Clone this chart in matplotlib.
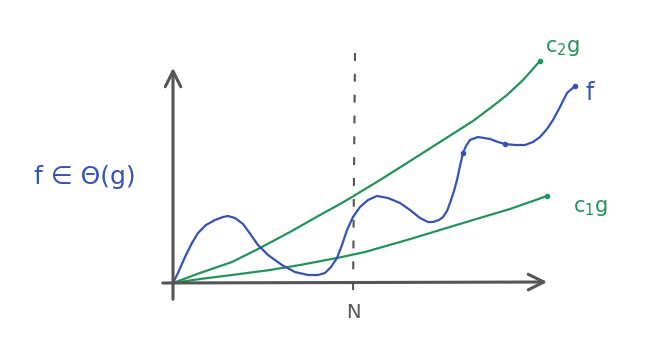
import numpy as np
import matplotlib
matplotlib.use("Agg")
from matplotlib import pyplot as plt

# curves (origin at the axes corner)
c2g_x = [0, 27, 59, 87, 117, 147, 167, 179, 207, 234, 267, 300, 320, 334, 350, 367]
c2g_y = [0, 10, 21, 35, 51, 68, 79, 86, 103, 120, 141, 162, 177, 188, 203, 222]

c1g_x = [0, 27, 59, 97, 127, 164, 192, 234, 267, 300, 337, 374]
c1g_y = [0, 4, 8, 13, 18, 25, 31, 43, 53, 63, 74, 87]

f_x = [0, 5, 12, 19, 25, 33, 42, 50, 55, 62, 70, 78, 85, 95, 109, 122, 135, 145,
       152, 158, 164, 169, 174, 180, 187, 195, 204, 215, 227, 237, 247, 255, 260,
       266, 270, 274, 277, 281, 284, 287, 290, 293, 297, 305, 317, 325, 332, 342,
       352, 360, 367, 374, 380, 387, 394, 402]
f_y = [0, 10, 26, 40, 50, 58, 63, 66, 67, 65, 59, 48, 38, 28, 18, 11, 8, 8,
       10, 16, 25, 38, 53, 66, 76, 83, 87, 85, 80, 73, 65, 61, 61,
       63, 66, 72, 80, 92, 103, 117, 130, 137, 143, 146, 144, 141, 139, 138,
       138, 141, 146, 154, 163, 176, 190, 197]

N_x = 180

GREEN = "#23935a"
BLUE = "#3553b5"
GREY = "#555555"

fig = plt.figure(figsize=(6.66, 3.58), dpi=100)
ax = fig.add_axes([0, 0, 1, 1])
ax.set_xlim(-173, 493)
ax.set_ylim(-75, 283)
ax.axis("off")

# axes with arrows
ax.annotate("", xy=(377, 1), xytext=(-13, 0),
            arrowprops=dict(arrowstyle="->", lw=2.2, color=GREY, mutation_scale=28))
ax.annotate("", xy=(0, 218), xytext=(0, -19),
            arrowprops=dict(arrowstyle="->", lw=2.2, color=GREY, mutation_scale=28))

# N dashed line
ax.plot([N_x + 2, N_x], [230, -14], color=GREY, lw=1.5, dashes=(3.8, 6.2))
ax.text(N_x, -30, "N", color=GREY, fontsize=14, ha="center", va="center")

ax.plot(c2g_x, c2g_y, color=GREEN, lw=1.6, solid_capstyle="round", solid_joinstyle="round")
ax.plot(c1g_x, c1g_y, color=GREEN, lw=1.6, solid_capstyle="round", solid_joinstyle="round")
ax.plot(f_x, f_y, color=BLUE, lw=1.6, solid_capstyle="round", solid_joinstyle="round")

ax.plot([c2g_x[-1], c1g_x[-1]], [c2g_y[-1], c1g_y[-1]], "o", color=GREEN, ms=3)
ax.plot([f_x[-1], f_x[40], f_x[46]], [f_y[-1], f_y[40], f_y[46]], "o", color=BLUE, ms=3)

ax.text(372, 235, "c$_2$g", color=GREEN, fontsize=15, ha="left", va="center")
ax.text(400, 75, "c$_1$g", color=GREEN, fontsize=15, ha="left", va="center")
ax.text(413, 190, "f", color=BLUE, fontsize=17, ha="left", va="center")
ax.text(-88, 106, "f ∈ Θ(g)", color=BLUE, fontsize=18, ha="center", va="center")

fig.savefig("out.png", dpi=100)
